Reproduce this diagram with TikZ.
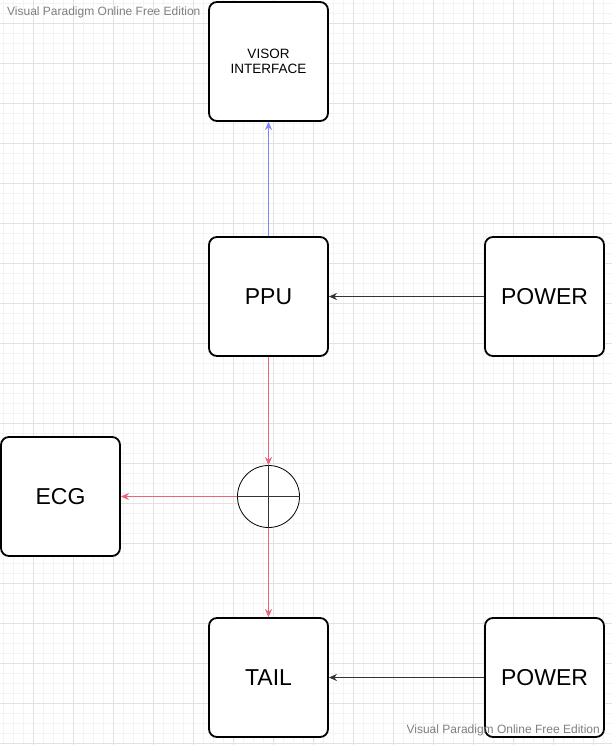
\documentclass[tikz,border=0pt]{standalone}
\usepackage{fontspec}
\setmainfont{Liberation Sans}
\usetikzlibrary{arrows.meta,positioning}

\definecolor{grille}{HTML}{F3F3F3}
\definecolor{grillemaj}{HTML}{E2E2E2}
\definecolor{rouge}{HTML}{E9657C}
\definecolor{bleu}{HTML}{7F86FF}
\definecolor{sombre}{HTML}{333333}
\definecolor{filigrane}{HTML}{808080}

\begin{document}
\begin{tikzpicture}[
    x=1pt, y=-1pt,
    >={Stealth[length=8pt,width=7pt,inset=2.5pt]},
    bloc/.style={
        draw,
        fill=white,
        rounded corners=8pt,
        line width=1.8pt,
        minimum width=119pt,
        minimum height=119pt,
        inner sep=0pt,
        font=\fontsize{23}{26}\selectfont
    },
    petitbloc/.style={
        bloc,
        align=center,
        font=\fontsize{13.5}{15}\selectfont
    },
    jonction/.style={
        circle,
        draw,
        fill=white,
        line width=0.8pt,
        minimum size=62pt,
        inner sep=0pt
    },
    fleche/.style={
        ->,
        line width=1.6pt
    },
    filigr/.style={
        text=filigrane,
        inner sep=0pt,
        font=\fontsize{12}{14}\selectfont
    }
]
\useasboundingbox (0,0) rectangle (612,745);
\fill[white] (0,0) rectangle (612,745);

% Background grid
\foreach \gx in {3,13,...,612} {
    \draw[grille, line width=0.6pt] (\gx,0) -- (\gx,745);
}
\foreach \gy in {3,13,...,745} {
    \draw[grille, line width=0.6pt] (0,\gy) -- (612,\gy);
}
\foreach \gx in {33,73,...,612} {
    \draw[grillemaj, line width=0.8pt] (\gx,0) -- (\gx,745);
}
\foreach \gy in {23,63,...,745} {
    \draw[grillemaj, line width=0.8pt] (0,\gy) -- (612,\gy);
}

% Blocks
\node[petitbloc] (visor) at (268.5,61.5) {VISOR\\INTERFACE};
\node[bloc] (ppu) at (268.5,296.5) {PPU};
\node[bloc] (power1) at (544.5,296.5) {POWER};
\node[bloc] (ecg) at (60.5,496.5) {ECG};
\node[bloc] (tail) at (268.5,677.5) {TAIL};
\node[bloc] (power2) at (544.5,677.5) {POWER};

% Summing junction
\node[jonction] (somme) at (268.5,496.5) {};
\draw[sombre, line width=0.8pt] (somme.north) -- (somme.south);
\draw[sombre, line width=0.8pt] (somme.west) -- (somme.east);

% Connections
\draw[fleche, bleu] (ppu) -- (visor);
\draw[fleche, sombre] (power1) -- (ppu);
\draw[fleche, rouge] (ppu) -- (somme);
\draw[fleche, rouge] (somme) -- (ecg);
\draw[fleche, rouge] (somme) -- (tail);
\draw[fleche, sombre] (power2) -- (tail);

% Watermarks
\node[filigr, anchor=west] (wm1) at (7,12) {Visual Paradigm Online Free Edition};
\node[filigr, anchor=east] (wm2) at (600,730) {Visual Paradigm Online Free Edition};

\end{tikzpicture}
\end{document}
